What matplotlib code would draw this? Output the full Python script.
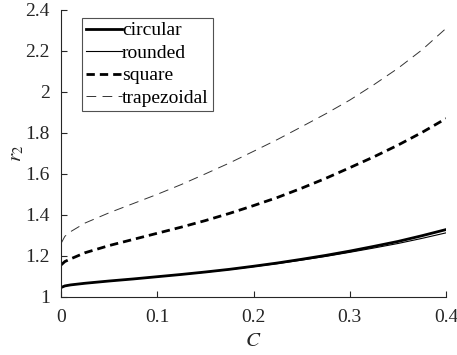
import matplotlib
matplotlib.use("Agg")
import matplotlib.pyplot as plt
from matplotlib.ticker import FuncFormatter

plt.rcParams["font.family"] = ["Liberation Serif", "DejaVu Serif"]
plt.rcParams["mathtext.fontset"] = "stix"

C = [0, 0.004, 0.01, 0.025, 0.05, 0.075, 0.1, 0.125, 0.15, 0.175, 0.2,
     0.225, 0.25, 0.275, 0.3, 0.325, 0.35, 0.375, 0.4]
circular = [1.045, 1.053, 1.058, 1.066, 1.077, 1.087, 1.098, 1.109, 1.121, 1.134, 1.149,
            1.165, 1.183, 1.202, 1.223, 1.246, 1.270, 1.298, 1.328]
rounded = [1.045, 1.053, 1.058, 1.066, 1.077, 1.087, 1.098, 1.109, 1.120, 1.133, 1.147,
           1.162, 1.179, 1.197, 1.217, 1.238, 1.260, 1.285, 1.312]
square = [1.155, 1.172, 1.185, 1.215, 1.250, 1.280, 1.310, 1.340, 1.372, 1.407, 1.445,
          1.485, 1.530, 1.578, 1.630, 1.683, 1.740, 1.802, 1.870]
trapezoidal = [1.26, 1.295, 1.318, 1.36, 1.41, 1.455, 1.50, 1.548, 1.600, 1.653, 1.710,
               1.768, 1.830, 1.893, 1.960, 2.035, 2.115, 2.205, 2.310]

fig = plt.figure(figsize=(4.57, 3.55), dpi=100)
ax = fig.add_axes([0.1335, 0.164, 0.8425, 0.808])

ax.plot(C, circular, color="black", lw=2.0, label="circular")
ax.plot(C, rounded, color="black", lw=0.8, label="rounded")
ax.plot(C, square, color="black", lw=2.0, ls=(0, (3, 1.8)), label="square")
ax.plot(C, trapezoidal, color="#333333", lw=0.7, ls=(0, (10, 6.5)), label="trapezoidal")

ax.set_xlim(0, 0.4)
ax.set_ylim(1, 2.4)
ax.set_xticks([0, 0.1, 0.2, 0.3, 0.4])
ax.set_yticks([1, 1.2, 1.4, 1.6, 1.8, 2, 2.2, 2.4])
fmt = FuncFormatter(lambda v, p: ("%g" % round(v, 2)))
ax.xaxis.set_major_formatter(fmt)
ax.yaxis.set_major_formatter(fmt)

for s in ["top", "right"]:
    ax.spines[s].set_visible(False)
for s in ["left", "bottom"]:
    ax.spines[s].set_color("#262626")
    ax.spines[s].set_linewidth(0.8)
ax.tick_params(direction="in", length=4, width=0.8, colors="#262626",
               labelsize=14, labelcolor="#262626")
ax.tick_params(axis="y", pad=8)
ax.tick_params(axis="x", pad=9)

ax.set_xlabel("$C$", fontsize=15, color="#262626", labelpad=4)
ax.set_ylabel("$r_2$", fontsize=15, color="#262626", labelpad=-1)

leg = ax.legend(loc="upper left", bbox_to_anchor=(0.055, 0.972), fontsize=14,
                frameon=True, fancybox=False, handlelength=1.85, handletextpad=0.0,
                borderpad=0.2, labelspacing=0.25, borderaxespad=0)
leg.get_frame().set_edgecolor("#262626")
leg.get_frame().set_linewidth(0.8)

fig.savefig("out.png", dpi=100)
